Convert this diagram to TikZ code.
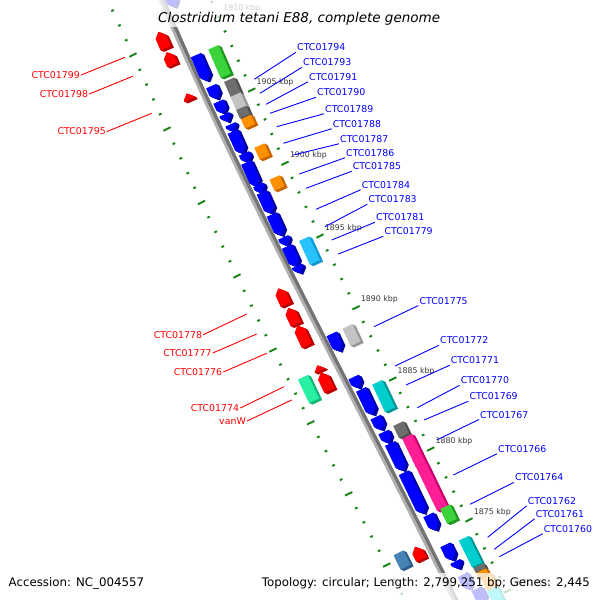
\documentclass[tikz,border=0pt]{standalone}
\usepackage{fontspec}
\setmainfont{DejaVu Sans}
\usetikzlibrary{calc}
\definecolor{gblue}{RGB}{0,0,255}\definecolor{gblueS}{RGB}{0,0,165}
\definecolor{gred}{RGB}{255,0,0}\definecolor{gredS}{RGB}{185,0,0}
\definecolor{ggreen}{RGB}{60,210,60}\definecolor{ggreenS}{RGB}{30,150,30}
\definecolor{gdgray}{RGB}{110,110,110}\definecolor{gdgrayS}{RGB}{80,80,80}
\definecolor{glgray}{RGB}{195,195,195}\definecolor{glgrayS}{RGB}{150,150,150}
\definecolor{gorange}{RGB}{255,145,0}\definecolor{gorangeS}{RGB}{200,100,0}
\definecolor{gsky}{RGB}{40,195,255}\definecolor{gskyS}{RGB}{20,150,210}
\definecolor{gturq}{RGB}{0,205,205}\definecolor{gturqS}{RGB}{0,150,150}
\definecolor{gpink}{RGB}{255,30,150}\definecolor{gpinkS}{RGB}{200,0,110}
\definecolor{gmint}{RGB}{40,240,160}\definecolor{gmintS}{RGB}{20,180,120}
\definecolor{gsteel}{RGB}{70,130,180}\definecolor{gsteelS}{RGB}{45,95,140}
\definecolor{gcyan}{RGB}{0,235,235}\definecolor{gcyanS}{RGB}{0,180,180}
\definecolor{tickgreen}{RGB}{20,130,20}
\definecolor{kbpgray}{RGB}{55,55,55}
\definecolor{bbl}{RGB}{175,175,175}\definecolor{bbd}{RGB}{115,115,115}
\newcommand\gwid{11}
\newcommand\genef[5]{% forward arrow (points down the backbone)
  \pgfmathsetmacro\gA{atan2(-1,0.43+0.0001*#2)}%
  \pgfmathsetmacro\gH{#3/2}\pgfmathsetmacro\gW{\gwid/2}\pgfmathsetmacro\gT{\gH-min(5.5,#3)}%
  \foreach \k in {4,3,2,1}{%
    \fill[#5,shift={(#1+0.8*\k,#2+0.4*\k)},rotate=\gA] (-\gH,-\gW) -- (\gT,-\gW) -- (\gH,0) -- (\gT,\gW) -- (-\gH,\gW) -- cycle;}%
  \fill[#4,shift={(#1,#2)},rotate=\gA] (-\gH,-\gW) -- (\gT,-\gW) -- (\gH,0) -- (\gT,\gW) -- (-\gH,\gW) -- cycle;}
\newcommand\gener[5]{% reverse arrow (points up the backbone)
  \pgfmathsetmacro\gA{atan2(-1,0.43+0.0001*#2)}%
  \pgfmathsetmacro\gH{#3/2}\pgfmathsetmacro\gW{\gwid/2}\pgfmathsetmacro\gT{\gH-min(5.5,#3)}%
  \foreach \k in {4,3,2,1}{%
    \fill[#5,shift={(#1+0.8*\k,#2+0.4*\k)},rotate=\gA] (\gH,-\gW) -- (-\gT,-\gW) -- (-\gH,0) -- (-\gT,\gW) -- (\gH,\gW) -- cycle;}%
  \fill[#4,shift={(#1,#2)},rotate=\gA] (\gH,-\gW) -- (-\gT,-\gW) -- (-\gH,0) -- (-\gT,\gW) -- (\gH,\gW) -- cycle;}
\newcommand\geneb[5]{% plain box
  \pgfmathsetmacro\gA{atan2(-1,0.43+0.0001*#2)}%
  \pgfmathsetmacro\gH{#3/2}\pgfmathsetmacro\gW{\gwid/2}%
  \foreach \k in {4,3,2,1}{%
    \fill[#5,shift={(#1+0.8*\k,#2+0.4*\k)},rotate=\gA] (-\gH,-\gW) -- (\gH,-\gW) -- (\gH,\gW) -- (-\gH,\gW) -- cycle;}%
  \fill[#4,shift={(#1,#2)},rotate=\gA] (-\gH,-\gW) -- (\gH,-\gW) -- (\gH,\gW) -- (-\gH,\gW) -- cycle;}
\tikzset{
  blbl/.style={text=gblue, font=\fontsize{9.4}{11}\selectfont, inner sep=1pt, anchor=west},
  rlbl/.style={text=gred, font=\fontsize{9.4}{11}\selectfont, inner sep=1pt, anchor=east},
  bline/.style={draw=gblue, line width=0.9pt},
  rline/.style={draw=gred, line width=0.9pt},
  kbplbl/.style={text=kbpgray, font=\fontsize{7.8}{9}\selectfont, inner sep=0pt, anchor=base west},
  tickmaj/.style={draw=tickgreen, line width=1.9pt},
  tickmin/.style={draw=tickgreen, line width=1.9pt},
  infotxt/.style={text=black, font=\fontsize{11.8}{14}\selectfont, inner sep=0pt},
  fadeband/.style={fill=white, fill opacity=0.75},
}
\begin{document}
\begin{tikzpicture}[x=1pt,y=-1pt]
\useasboundingbox (0,0) rectangle (600,600);
\clip (0,0) rectangle (600,600);
\fill[white] (0,0) rectangle (600,600);
% scale coordinates
\coordinate (R1915) at (185.1,-56.6);\coordinate (R1910) at (218.4,16.7);
\coordinate (R1905) at (251.7,90);\coordinate (R1900) at (285,163.3);
\coordinate (R1895) at (320,236);\coordinate (R1890) at (356,307.7);
\coordinate (R1885) at (392.7,379);\coordinate (R1880) at (430.7,449);
\coordinate (R1875) at (469,520);\coordinate (R1870) at (507.5,591);
\coordinate (R1865) at (546,662);
\coordinate (L1915) at (99,-19);\coordinate (L1910) at (133,55);
\coordinate (L1905) at (167,129);\coordinate (L1900) at (201.5,202.5);
\coordinate (L1895) at (237,276);\coordinate (L1890) at (273,350);
\coordinate (L1885) at (310.7,422.7);\coordinate (L1880) at (348.7,493.8);
\coordinate (L1875) at (386.7,565);\coordinate (L1870) at (424,637);
\foreach \p/\q in {R1915/R1910,R1910/R1905,R1905/R1900,R1900/R1895,R1895/R1890,R1890/R1885,R1885/R1880,R1880/R1875,R1875/R1870,R1870/R1865,
  L1915/L1910,L1910/L1905,L1905/L1900,L1900/L1895,L1895/L1890,L1890/L1885,L1885/L1880,L1880/L1875,L1875/L1870}{
  \draw[tickmaj] (\p) ++(-26:4) -- ++(154:8);
  \foreach \j in {1,2,3,4}{\draw[tickmin] ($(\p)!\j/5!(\q)$) ++(-26:1.4) -- ++(154:2.8);}
}
% backbone
\draw[bbl, line width=6pt] (158.6,-8) -- (162,0) .. controls (246.9,200) and (357.3,400) .. (455,600) -- (459,608);
\draw[bbd, line width=3.2pt, xshift=1.4pt, yshift=0.7pt] (158.6,-8) -- (162,0) .. controls (246.9,200) and (357.3,400) .. (455,600) -- (459,608);
% forward genes (inner right track)
\genef{170}{-3}{22}{gblue}{gblueS}
\genef{201.5}{68}{28}{gblue}{gblueS}
\genef{214}{92.5}{14}{gblue}{gblueS}
\genef{221}{107.5}{13}{gblue}{gblueS}
\genef{226}{118}{8}{gblue}{gblueS}
\genef{232}{128}{8}{gblue}{gblueS}
\genef{237.5}{142.5}{24}{gblue}{gblueS}
\genef{246}{158}{10}{gblue}{gblueS}
\genef{251.5}{174.5}{26}{gblue}{gblueS}
\genef{260}{189}{9}{gblue}{gblueS}
\genef{266.5}{203}{23}{gblue}{gblueS}
\genef{276.5}{225}{23}{gblue}{gblueS}
\genef{285}{241.5}{9}{gblue}{gblueS}
\genef{291.5}{256.5}{22}{gblue}{gblueS}
\genef{298.5}{269.5}{8}{gblue}{gblueS}
\genef{335.5}{342.5}{19}{gblue}{gblueS}
\genef{356}{382.5}{12}{gblue}{gblueS}
\genef{367}{402}{28}{gblue}{gblueS}
\genef{378.5}{423.5}{14}{gblue}{gblueS}
\genef{386}{437.5}{12}{gblue}{gblueS}
\genef{396.5}{457}{30}{gblue}{gblueS}
\genef{413.5}{493}{45}{gblue}{gblueS}
\genef{432}{522.5}{17}{gblue}{gblueS}
\genef{449}{552.5}{17}{gblue}{gblueS}
\genef{457}{565}{8}{gblue}{gblueS}
\genef{466}{582}{16}{gblue}{gblueS}
\genef{480}{596}{16}{gblue}{gblueS}
% outer right track
\geneb{219.5}{61.5}{31}{ggreen}{ggreenS}
\geneb{232.5}{87.5}{17}{gdgray}{gdgrayS}
\geneb{238.5}{101.5}{15}{glgray}{glgrayS}
\geneb{243}{112}{9}{gdgray}{gdgrayS}
\geneb{248}{121.5}{10}{gorange}{gorangeS}
\geneb{262}{151.5}{13}{gorange}{gorangeS}
\geneb{277}{183}{12}{gorange}{gorangeS}
\geneb{309.5}{250.5}{26}{gsky}{gskyS}
\geneb{351.5}{335}{19}{glgray}{glgrayS}
\geneb{383.5}{396}{30}{gturq}{gturqS}
\geneb{401}{429.5}{13}{gdgray}{gdgrayS}
\geneb{414}{450.7}{31.7}{gpink}{gpinkS}
\geneb{431.6}{486.8}{48.3}{gpink}{gpinkS}
\geneb{448.5}{514}{16}{ggreen}{ggreenS}
\geneb{467}{545}{15}{gturq}{gturqS}
\geneb{473.5}{558}{15}{gturq}{gturqS}
\geneb{479.5}{568}{5}{gdgray}{gdgrayS}
\geneb{482}{573}{5}{gorange}{gorangeS}
\geneb{489}{582}{14}{gorange}{gorangeS}
\geneb{495}{595}{14}{gcyan}{gcyanS}
% reverse genes (inner left track)
\gener{162}{40}{18}{gred}{gredS}
\gener{169.5}{58.5}{14}{gred}{gredS}
\gener{188}{96.5}{7}{gred}{gredS}
\gener{282}{296.5}{18}{gred}{gredS}
\gener{292}{316}{18}{gred}{gredS}
\gener{302}{335.5}{22}{gred}{gredS}
\gener{318.5}{368}{6}{gred}{gredS}
\gener{325}{381.5}{20}{gred}{gredS}
\gener{418}{553}{14}{gred}{gredS}
% outer left track
\geneb{308.5}{389}{26}{gmint}{gmintS}
\geneb{402}{560}{16}{gsteel}{gsteelS}
% kbp labels
\foreach \k/\x/\y in {1910/223.2/10.7,1905/256.5/84,1900/289.8/157.3,1895/324.8/230,1890/360.8/301.7,1885/397.5/373,1880/435.5/443,1875/473.8/514,1870/512.3/585}{
  \node[kbplbl] (k\k) at (\x,\y) {\k\ kbp};
}
% blue labels
\foreach \n/\x/\y/\sx/\sy in {
  CTC01794/296/47.5/254.3/79.3, CTC01793/302/62.5/260/93.3, CTC01791/308/77/266/104.3,
  CTC01790/316/92.5/270/113.3, CTC01789/324/109/276.7/126.7, CTC01788/331.7/124/283.3/143.3,
  CTC01787/339/139/293.3/155, CTC01786/345/153/299.3/174, CTC01785/351.7/166.5/306/188.3,
  CTC01784/360.7/185/316/209.3, CTC01783/367.3/199.5/325/226.7, CTC01781/375/217.5/331.7/240,
  CTC01779/383.3/231.5/338.3/254, CTC01775/418.3/300.8/374/326.7, CTC01772/439/340.5/395/366,
  CTC01771/449.7/360.5/406/385, CTC01770/459.7/380.5/417.3/407.7, CTC01769/468.3/396.5/424/420,
  CTC01767/479/414.7/436.7/440, CTC01766/497/449/453.3/475, CTC01764/514/477.5/470/504.3,
  CTC01762/526.7/501/487.7/537.3, CTC01761/534.7/514/494.3/549.3, CTC01760/542.7/529/499.3/556.7}{
  \coordinate (s\n) at (\sx,\sy);
  \node[blbl] (l\n) at (\x,\y) {\n};
  \draw[bline] (s\n) -- (l\n.south west);
}
% red labels
\foreach \n/\x/\y/\sx/\sy in {
  CTC01799/81/75/125/57.3, CTC01798/89.3/94/133.3/76, CTC01795/107/131.5/151.7/113.3,
  CTC01778/203.3/334.7/246.7/314, CTC01777/212.7/353/256.7/334, CTC01776/223.3/372/266.7/353.3,
  CTC01774/240.3/408/284/386.7, vanW/247/421/291.7/400}{
  \coordinate (s\n) at (\sx,\sy);
  \node[rlbl] (l\n) at (\x,\y) {\n};
  \draw[rline] (s\n) -- (l\n.east);
}
% fading bands
\fill[fadeband] (150,0) rectangle (450,27);
\fill[fadeband] (0,573) rectangle (600,600);
% title and info
\node[infotxt, font=\fontsize{13.5}{16}\selectfont\itshape, anchor=base west] (title) at (158,22.7) {Clostridium tetani E88, complete genome};
\node[infotxt, anchor=base west] (acc) at (8.5,586.5) {Accession: NC\_004557};
\node[infotxt, anchor=base east] (topo) at (590,586.5) {Topology: circular; Length: 2,799,251 bp; Genes: 2,445};
\end{tikzpicture}
\end{document}
